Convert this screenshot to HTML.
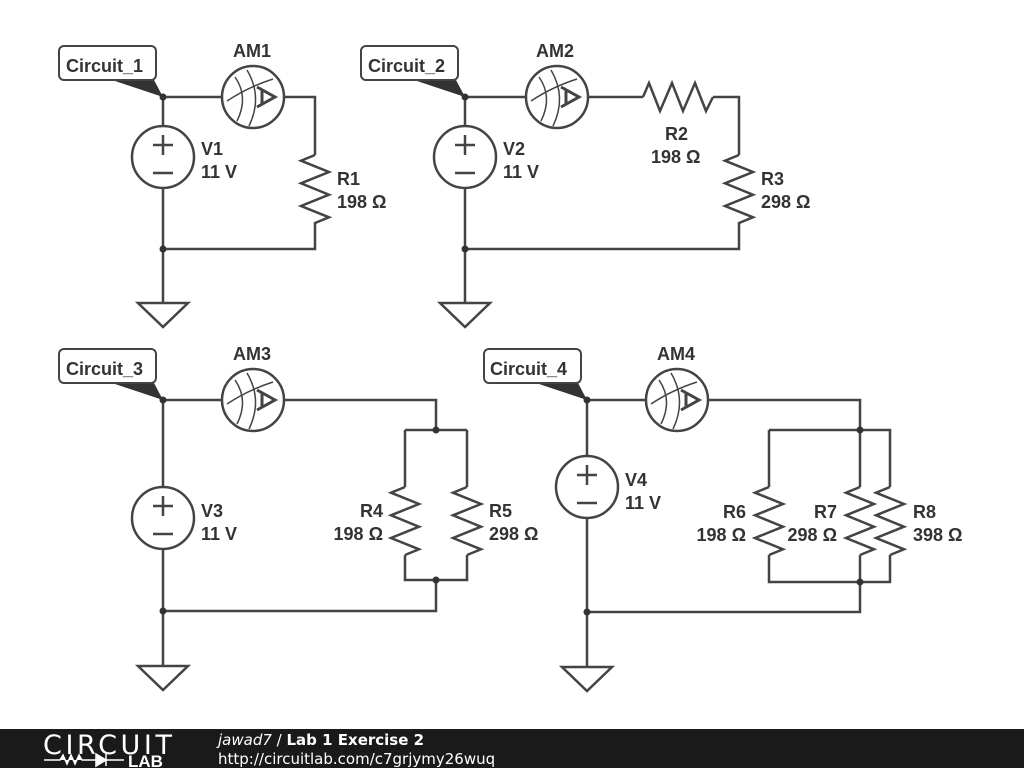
<!DOCTYPE html>
<html><head><meta charset="utf-8"><style>
html,body{margin:0;padding:0;background:#fff;width:1024px;height:768px;overflow:hidden}
svg text{font-family:"Liberation Sans",sans-serif;font-weight:bold;font-size:18px;fill:#333}
</style></head><body>
<svg width="1024" height="768" viewBox="0 0 1024 768" xmlns="http://www.w3.org/2000/svg">
<defs>
<g id="am">
 <circle cx="0" cy="0" r="31" fill="#fff" stroke="#444" stroke-width="2.5"/>
 <path d="M-26,4 Q-5,-10 20,-18" fill="none" stroke="#444" stroke-width="1.5"/>
 <path d="M-18,-20 Q-4,0 -16,24" fill="none" stroke="#444" stroke-width="1.5"/>
 <path d="M-6,-27 Q10,0 -4,29" fill="none" stroke="#444" stroke-width="1.5"/>
 <path d="M4,-10 L22,0 L4,10 M9,-7 L9,7" fill="none" stroke="#444" stroke-width="3"/>
</g>
<g id="vs">
 <circle cx="0" cy="0" r="31" fill="#fff" stroke="#444" stroke-width="2.5"/>
 <path d="M-10,-12 H10 M0,-22 V-2 M-10,16 H10" stroke="#444" stroke-width="2.5"/>
</g>
<path id="rv" d="M0,0 L-14,5.7 L14,17 L-14,28.3 L14,39.7 L-14,51 L14,62.3 L0,68" fill="none" stroke="#444" stroke-width="2.5"/>
<path id="gnd" d="M-25,0 H25 L0,24 Z" fill="#fff" stroke="#444" stroke-width="2.5"/>
</defs>
<g fill="none" stroke="#444" stroke-width="2.5">
<path d="M163,97 H315 V155 M315,222 V249 H163 M163,97 V303"/>
<path d="M465,97 H643 M713,97 H739 V155 M739,222 V249 H465 M465,97 V303"/>
<path d="M643,97 L649,83 L660,111 L672,83 L683,111 L695,83 L706,111 L713,97"/>
<path d="M163,400 H436 V430 M405,430 H467 M405,430 V487 M405,555 V580 H467 V555 M467,487 V430 M436,580 V611 H163 M163,400 V666"/>
<path d="M587,400 H860 V487 M860,555 V612 H587 M587,400 V667 M769,430 H890 V487 M769,430 V487 M769,555 V582 H890 V555"/>
</g>
<use href="#rv" x="315" y="155"/>
<use href="#rv" x="739" y="155"/>
<use href="#rv" x="405" y="487"/>
<use href="#rv" x="467" y="487"/>
<use href="#rv" x="769" y="487"/>
<use href="#rv" x="860" y="487"/>
<use href="#rv" x="890" y="487"/>
<use href="#am" x="253" y="97"/>
<use href="#am" x="557" y="97"/>
<use href="#am" x="253" y="400"/>
<use href="#am" x="677" y="400"/>
<use href="#vs" x="163" y="157"/>
<use href="#vs" x="465" y="157"/>
<use href="#vs" x="163" y="518"/>
<use href="#vs" x="587" y="487"/>
<use href="#gnd" x="163" y="303"/>
<use href="#gnd" x="465" y="303"/>
<use href="#gnd" x="163" y="666"/>
<use href="#gnd" x="587" y="667"/>
<g fill="#333">
<circle cx="163" cy="97" r="3.5"/><circle cx="163" cy="249" r="3.5"/>
<circle cx="465" cy="97" r="3.5"/><circle cx="465" cy="249" r="3.5"/>
<circle cx="163" cy="400" r="3.5"/><circle cx="163" cy="611" r="3.5"/><circle cx="436" cy="430" r="3.5"/><circle cx="436" cy="580" r="3.5"/>
<circle cx="587" cy="400" r="3.5"/><circle cx="587" cy="612" r="3.5"/><circle cx="860" cy="430" r="3.5"/><circle cx="860" cy="582" r="3.5"/>
<path d="M112,80 L154,80 L163,97 Z"/>
<path d="M414,80 L456,80 L465,97 Z"/>
<path d="M112,383 L154,383 L163,400 Z"/>
<path d="M536,383 L578,383 L587,400 Z"/>
</g>
<g fill="#fff" stroke="#444" stroke-width="2">
<rect x="59" y="46" width="97" height="34" rx="5"/>
<rect x="361" y="46" width="97" height="34" rx="5"/>
<rect x="59" y="349" width="97" height="34" rx="5"/>
<rect x="484" y="349" width="97" height="34" rx="5"/>
</g>
<text x="66" y="72">Circuit_1</text>
<text x="368" y="72">Circuit_2</text>
<text x="66" y="375">Circuit_3</text>
<text x="490" y="375">Circuit_4</text>
<text x="233" y="57">AM1</text>
<text x="536" y="57">AM2</text>
<text x="233" y="360">AM3</text>
<text x="657" y="360">AM4</text>
<text x="201" y="155">V1</text><text x="201" y="178">11 V</text>
<text x="503" y="155">V2</text><text x="503" y="178">11 V</text>
<text x="201" y="517">V3</text><text x="201" y="540">11 V</text>
<text x="625" y="486">V4</text><text x="625" y="509">11 V</text>
<text x="337" y="185">R1</text><text x="337" y="208">198 Ω</text>
<text x="665" y="140">R2</text><text x="651" y="163">198 Ω</text>
<text x="761" y="185">R3</text><text x="761" y="208">298 Ω</text>
<text x="383" y="517" text-anchor="end">R4</text><text x="383" y="540" text-anchor="end">198 Ω</text>
<text x="489" y="517">R5</text><text x="489" y="540">298 Ω</text>
<text x="746" y="518" text-anchor="end">R6</text><text x="746" y="541" text-anchor="end">198 Ω</text>
<text x="837" y="518" text-anchor="end">R7</text><text x="837" y="541" text-anchor="end">298 Ω</text>
<text x="913" y="518">R8</text><text x="913" y="541">398 Ω</text>
<rect x="0" y="729" width="1024" height="39" fill="#1a1a1a"/>
<text x="43" y="754" textLength="129" style="font-family:'DejaVu Sans',sans-serif;font-weight:normal;font-size:27px;fill:#fff">CIRCUIT</text>
<path d="M44,760 H60 L63,755 L67,764 L71,755 L75,764 L79,755 L82,760 H96 M96,754 L106,760 L96,766 Z M106,754 V766 M106,760 H124" stroke="#fff" stroke-width="1.5" fill="#fff"/>
<text x="128" y="767" style="font-size:17px;fill:#fff">LAB</text>
<text x="218" y="745" style="font-family:'DejaVu Sans',sans-serif;fill:#fff;font-size:15px"><tspan style="font-style:italic;font-weight:normal">jawad7</tspan><tspan style="font-weight:normal"> / </tspan>Lab 1 Exercise 2</text>
<text x="218" y="764" style="font-family:'DejaVu Sans',sans-serif;fill:#fff;font-size:15px;font-weight:normal">http://circuitlab.com/c7grjymy26wuq</text>
</svg>
</body></html>
